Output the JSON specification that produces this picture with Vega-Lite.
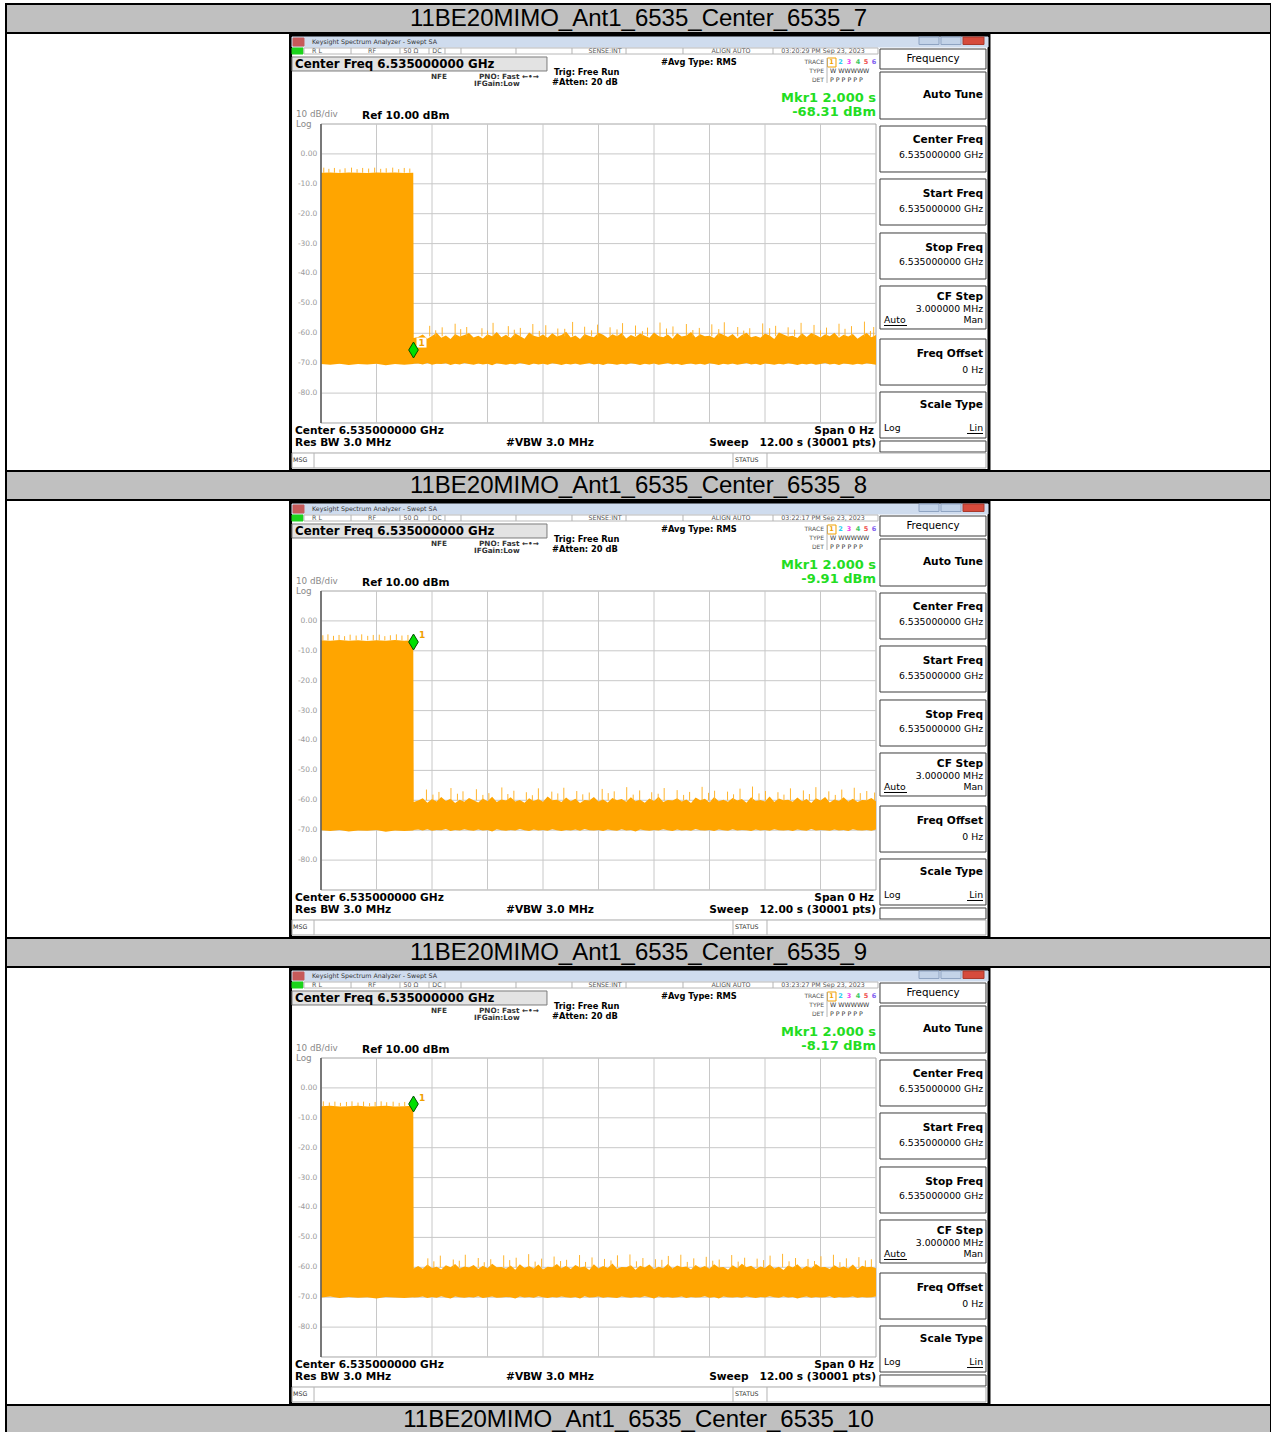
{
"$schema": "https://vega.github.io/schema/vega-lite/v6.json",
"padding": {"left": 5, "top": 3, "right": 1, "bottom": 0},
"bounds": "flush",
"spacing": 0,
"background": "white",
"config": {
  "text": {"font": "DejaVu Sans", "baseline": "middle"},
  "style": {
    "h1": {"font": "DejaVu Sans", "fontSize": 11.8, "fontWeight": "bold", "align": "left", "baseline": "middle", "color": "#000000"},
    "b11l": {"font": "DejaVu Sans", "fontSize": 10.6, "fontWeight": "bold", "align": "left", "baseline": "middle", "color": "#000000"},
    "b11r": {"font": "DejaVu Sans", "fontSize": 10.6, "fontWeight": "bold", "align": "right", "baseline": "middle", "color": "#000000"},
    "n9r": {"font": "DejaVu Sans", "fontSize": 9.3, "fontWeight": "normal", "align": "right", "baseline": "middle", "color": "#000000"},
    "n9l": {"font": "DejaVu Sans", "fontSize": 9.3, "fontWeight": "normal", "align": "left", "baseline": "middle", "color": "#000000"},
    "n10c": {"font": "DejaVu Sans", "fontSize": 10.3, "fontWeight": "normal", "align": "center", "baseline": "middle", "color": "#000000"},
    "b8l": {"font": "DejaVu Sans", "fontSize": 8.3, "fontWeight": "bold", "align": "left", "baseline": "middle", "color": "#000000"},
    "b7l": {"font": "DejaVu Sans", "fontSize": 7.3, "fontWeight": "bold", "align": "left", "baseline": "middle", "color": "#333333"},
    "gray": {"font": "DejaVu Sans", "fontSize": 8.8, "fontWeight": "normal", "align": "left", "baseline": "middle", "color": "#8a8a8a"},
    "mk": {"font": "DejaVu Sans", "fontSize": 13, "fontWeight": "bold", "align": "right", "baseline": "middle", "color": "#22dd22"},
    "tiny": {"font": "DejaVu Sans", "fontSize": 6.3, "fontWeight": "normal", "align": "center", "baseline": "middle", "color": "#555555"},
    "tinyl": {"font": "DejaVu Sans", "fontSize": 6.3, "fontWeight": "normal", "align": "left", "baseline": "middle", "color": "#333333"},
    "tinyr": {"font": "DejaVu Sans", "fontSize": 6, "fontWeight": "normal", "align": "right", "baseline": "middle", "color": "#555555"},
    "tinyc": {"font": "DejaVu Sans", "fontSize": 6.5, "fontWeight": "bold", "align": "center", "baseline": "middle", "color": "#555555"},
    "yt": {"font": "DejaVu Sans", "fontSize": 7.5, "fontWeight": "normal", "align": "right", "baseline": "middle", "color": "#9a9a9a"},
    "mkl": {"font": "DejaVu Sans", "fontSize": 9, "fontWeight": "bold", "align": "center", "baseline": "middle", "color": "#f0a000"}
  }
},
"datasets": {
  "rects": [
    {"g": "frame", "t": -0.659, "t2": 14.443, "v": 39.60, "v2": -105.89},
    {"g": "wt", "t": -0.627, "t2": 14.422, "v": 39.10, "v2": 35.75},
    {"g": "icon", "t": -0.605, "t2": -0.368, "v": 38.76, "v2": 36.09},
    {"g": "btn", "t": 12.930, "t2": 13.362, "v": 39.10, "v2": 36.59},
    {"g": "btn", "t": 13.405, "t2": 13.838, "v": 39.10, "v2": 36.59},
    {"g": "close", "t": 13.881, "t2": 14.335, "v": 39.10, "v2": 36.59},
    {"g": "lxi", "t": -0.627, "t2": -0.389, "v": 35.42, "v2": 33.41},
    {"g": "status", "t": -0.368, "t2": 12.043, "v": 35.42, "v2": 33.41},
    {"g": "cfbox", "t": -0.627, "t2": 4.886, "v": 32.41, "v2": 27.73},
    {"g": "sk", "t": 12.086, "t2": 14.378, "v": 35.08, "v2": 28.39},
    {"g": "sk", "t": 12.086, "t2": 14.378, "v": 27.39, "v2": 11.67},
    {"g": "sk", "t": 12.086, "t2": 14.378, "v": 9.33, "v2": -6.05},
    {"g": "sk", "t": 12.086, "t2": 14.378, "v": -8.39, "v2": -23.78},
    {"g": "sk", "t": 12.086, "t2": 14.378, "v": -26.45, "v2": -41.84},
    {"g": "sk", "t": 12.086, "t2": 14.378, "v": -44.18, "v2": -58.56},
    {"g": "sk", "t": 12.086, "t2": 14.378, "v": -61.91, "v2": -77.30},
    {"g": "sk", "t": 12.086, "t2": 14.378, "v": -79.63, "v2": -95.02},
    {"g": "sk", "t": 12.086, "t2": 14.378, "v": -96.02, "v2": -99.70},
    {"g": "msg", "t": -0.627, "t2": 14.378, "v": -100.03, "v2": -105.05},
    {"g": "plot", "t": 0, "t2": 12, "v": 10, "v2": -90},
    {"g": "tbox", "t": 10.951, "t2": 11.135, "v": 32.07, "v2": 29.06}
  ],
  "vr": [
    {"g": "grid", "t": 1.2, "v": 10, "v2": -90}, {"g": "grid", "t": 2.4, "v": 10, "v2": -90}, {"g": "grid", "t": 3.6, "v": 10, "v2": -90},
    {"g": "grid", "t": 4.8, "v": 10, "v2": -90}, {"g": "grid", "t": 6.0, "v": 10, "v2": -90}, {"g": "grid", "t": 7.2, "v": 10, "v2": -90},
    {"g": "grid", "t": 8.4, "v": 10, "v2": -90}, {"g": "grid", "t": 9.6, "v": 10, "v2": -90}, {"g": "grid", "t": 10.8, "v": 10, "v2": -90},
    {"g": "axis", "t": 0, "v": 10, "v2": -90},
    {"g": "div", "t": 0.649, "v": 35.42, "v2": 33.41}, {"g": "div", "t": 1.708, "v": 35.42, "v2": 33.41}, {"g": "div", "t": 2.335, "v": 35.42, "v2": 33.41},
    {"g": "div", "t": 2.681, "v": 35.42, "v2": 33.41}, {"g": "div", "t": 3.027, "v": 35.42, "v2": 33.41}, {"g": "div", "t": 4.216, "v": 35.42, "v2": 33.41},
    {"g": "div", "t": 5.427, "v": 35.42, "v2": 33.41}, {"g": "div", "t": 6.595, "v": 35.42, "v2": 33.41}, {"g": "div", "t": 7.827, "v": 35.42, "v2": 33.41},
    {"g": "div", "t": 9.773, "v": 35.42, "v2": 33.41},
    {"g": "div", "t": 10.941, "v": 32.07, "v2": 23.71},
    {"g": "div", "t": -0.151, "v": -100.03, "v2": -105.05}, {"g": "div", "t": 8.908, "v": -100.03, "v2": -105.05}, {"g": "div", "t": 9.643, "v": -100.03, "v2": -105.05}
  ],
  "hr": [
    {"g": "grid", "t": 0, "t2": 12, "v": 0}, {"g": "grid", "t": 0, "t2": 12, "v": -10}, {"g": "grid", "t": 0, "t2": 12, "v": -20},
    {"g": "grid", "t": 0, "t2": 12, "v": -30}, {"g": "grid", "t": 0, "t2": 12, "v": -40}, {"g": "grid", "t": 0, "t2": 12, "v": -50},
    {"g": "grid", "t": 0, "t2": 12, "v": -60}, {"g": "grid", "t": 0, "t2": 12, "v": -70}, {"g": "grid", "t": 0, "t2": 12, "v": -80},
    {"g": "ul", "t": 12.173, "t2": 12.670, "v": -57.39}, {"g": "ul", "t": 13.968, "t2": 14.314, "v": -93.51}
  ],
  "txt": [
    {"p": 0, "g": "h1", "t": -0.562, "v": 30.07, "s": "Center Freq 6.535000000 GHz"},
    {"p": 0, "g": "b11l", "t": 0.886, "v": 12.84, "s": "Ref 10.00 dBm"},
    {"p": 0, "g": "b11l", "t": -0.562, "v": -92.68, "s": "Center 6.535000000 GHz"},
    {"p": 0, "g": "b11l", "t": -0.562, "v": -96.69, "s": "Res BW 3.0 MHz"},
    {"p": 0, "g": "b11l", "t": 4.0, "v": -96.69, "s": "#VBW 3.0 MHz"},
    {"p": 0, "g": "b11r", "t": 11.957, "v": -92.68, "s": "Span 0 Hz"},
    {"p": 0, "g": "b11r", "t": 12.0, "v": -96.69, "s": "Sweep\u00a0\u00a0 12.00 s (30001 pts)"},
    {"p": 0, "g": "b11r", "t": 14.314, "v": 19.70, "s": "Auto Tune"},
    {"p": 0, "g": "b11r", "t": 14.314, "v": 4.65, "s": "Center Freq"},
    {"p": 0, "g": "b11r", "t": 14.314, "v": -13.41, "s": "Start Freq"},
    {"p": 0, "g": "b11r", "t": 14.314, "v": -31.47, "s": "Stop Freq"},
    {"p": 0, "g": "b11r", "t": 14.314, "v": -47.86, "s": "CF Step"},
    {"p": 0, "g": "b11r", "t": 14.314, "v": -66.92, "s": "Freq Offset"},
    {"p": 0, "g": "b11r", "t": 14.314, "v": -83.98, "s": "Scale Type"},
    {"p": 0, "g": "n9r", "t": 14.314, "v": -0.37, "s": "6.535000000 GHz"},
    {"p": 0, "g": "n9r", "t": 14.314, "v": -18.43, "s": "6.535000000 GHz"},
    {"p": 0, "g": "n9r", "t": 14.314, "v": -36.15, "s": "6.535000000 GHz"},
    {"p": 0, "g": "n9r", "t": 14.314, "v": -51.87, "s": "3.000000 MHz"},
    {"p": 0, "g": "n9r", "t": 14.314, "v": -55.55, "s": "Man"},
    {"p": 0, "g": "n9r", "t": 14.314, "v": -72.27, "s": "0 Hz"},
    {"p": 0, "g": "n9r", "t": 14.314, "v": -91.67, "s": "Lin"},
    {"p": 0, "g": "n9l", "t": 12.173, "v": -55.55, "s": "Auto"},
    {"p": 0, "g": "n9l", "t": 12.173, "v": -91.67, "s": "Log"},
    {"p": 0, "g": "n10c", "t": 13.232, "v": 31.64, "s": "Frequency"},
    {"p": 0, "g": "b8l", "t": 5.038, "v": 27.16, "s": "Trig: Free Run"},
    {"p": 0, "g": "b8l", "t": 4.995, "v": 23.81, "s": "#Atten: 20 dB"},
    {"p": 0, "g": "b8l", "t": 7.351, "v": 30.30, "s": "#Avg Type: RMS"},
    {"p": 0, "g": "b7l", "t": 2.378, "v": 25.82, "s": "NFE"},
    {"p": 0, "g": "b7l", "t": 3.416, "v": 25.82, "s": "PNO: Fast \u2190\u2022\u2192"},
    {"p": 0, "g": "b7l", "t": 3.308, "v": 23.28, "s": "IFGain:Low"},
    {"p": 0, "g": "gray", "t": -0.541, "v": 13.4, "s": "10 dB/div"},
    {"p": 0, "g": "gray", "t": -0.541, "v": 10.1, "s": "Log"},
    {"p": 0, "g": "mk", "t": 12.0, "v": 18.60, "s": "Mkr1 2.000 s"},
    {"p": 1, "g": "mk", "t": 12.0, "v": 13.91, "s": "-68.31 dBm"},
    {"p": 2, "g": "mk", "t": 12.0, "v": 13.91, "s": "-9.91 dBm"},
    {"p": 3, "g": "mk", "t": 12.0, "v": 13.91, "s": "-8.17 dBm"},
    {"p": 0, "g": "tiny", "t": -0.086, "v": 34.48, "s": "R L"},
    {"p": 0, "g": "tiny", "t": 1.103, "v": 34.48, "s": "RF"},
    {"p": 0, "g": "tiny", "t": 1.946, "v": 34.48, "s": "50 \u03a9"},
    {"p": 0, "g": "tiny", "t": 2.508, "v": 34.48, "s": "DC"},
    {"p": 0, "g": "tiny", "t": 6.141, "v": 34.48, "s": "SENSE:INT"},
    {"p": 0, "g": "tiny", "t": 8.865, "v": 34.48, "s": "ALIGN AUTO"},
    {"p": 1, "g": "tiny", "t": 10.854, "v": 34.48, "s": "03:20:29 PM Sep 23, 2023"},
    {"p": 2, "g": "tiny", "t": 10.854, "v": 34.48, "s": "03:22:17 PM Sep 23, 2023"},
    {"p": 3, "g": "tiny", "t": 10.854, "v": 34.48, "s": "03:23:27 PM Sep 23, 2023"},
    {"p": 0, "g": "tinyl", "t": -0.195, "v": 37.59, "s": "Keysight Spectrum Analyzer - Swept SA"},
    {"p": 0, "g": "tinyl", "t": -0.605, "v": -102.54, "s": "MSG"},
    {"p": 0, "g": "tinyl", "t": 8.951, "v": -102.54, "s": "STATUS"},
    {"p": 0, "g": "tinyl", "t": 11.005, "v": 27.63, "s": "W WWWWW"},
    {"p": 0, "g": "tinyl", "t": 11.005, "v": 24.72, "s": "P P P P P P"},
    {"p": 0, "g": "tinyr", "t": 10.876, "v": 30.64, "s": "TRACE"},
    {"p": 0, "g": "tinyr", "t": 10.876, "v": 27.63, "s": "TYPE"},
    {"p": 0, "g": "tinyr", "t": 10.876, "v": 24.72, "s": "DET"},
    {"p": 0, "g": "yt", "t": -0.08, "v": 0, "s": "0.00"},
    {"p": 0, "g": "yt", "t": -0.08, "v": -10, "s": "-10.0"},
    {"p": 0, "g": "yt", "t": -0.08, "v": -20, "s": "-20.0"},
    {"p": 0, "g": "yt", "t": -0.08, "v": -30, "s": "-30.0"},
    {"p": 0, "g": "yt", "t": -0.08, "v": -40, "s": "-40.0"},
    {"p": 0, "g": "yt", "t": -0.08, "v": -50, "s": "-50.0"},
    {"p": 0, "g": "yt", "t": -0.08, "v": -60, "s": "-60.0"},
    {"p": 0, "g": "yt", "t": -0.08, "v": -70, "s": "-70.0"},
    {"p": 0, "g": "yt", "t": -0.08, "v": -80, "s": "-80.0"}
  ],
  "trn": [
    {"t": 11.038, "v": 30.64, "n": "1"}, {"t": 11.232, "v": 30.64, "n": "2"}, {"t": 11.416, "v": 30.64, "n": "3"},
    {"t": 11.611, "v": 30.64, "n": "4"}, {"t": 11.784, "v": 30.64, "n": "5"}, {"t": 11.957, "v": 30.64, "n": "6"}
  ],
  "mkr": [
    {"p": 1, "t": 2.0, "v": -65.59},
    {"p": 2, "t": 2.0, "v": -7.06},
    {"p": 3, "t": 2.0, "v": -5.38}
  ],
  "mkl": [
    {"p": 1, "t": 2.173, "v": -63.1, "s": "1"},
    {"p": 2, "t": 2.184, "v": -4.72, "s": "1"},
    {"p": 3, "t": 2.184, "v": -3.38, "s": "1"}
  ],
  "sp": [
    {"p":1,"t":0.06,"v":-4.6,"v2":-6.3},{"p":1,"t":0.17,"v":-5.0,"v2":-6.3},{"p":1,"t":0.29,"v":-4.7,"v2":-6.3},{"p":1,"t":0.41,"v":-5.2,"v2":-6.3},
    {"p":1,"t":0.52,"v":-4.8,"v2":-6.3},{"p":1,"t":0.66,"v":-4.6,"v2":-6.3},{"p":1,"t":0.78,"v":-5.1,"v2":-6.3},{"p":1,"t":0.9,"v":-4.7,"v2":-6.3},
    {"p":1,"t":1.03,"v":-4.9,"v2":-6.3},{"p":1,"t":1.16,"v":-4.6,"v2":-6.3},{"p":1,"t":1.29,"v":-5.0,"v2":-6.3},{"p":1,"t":1.41,"v":-4.8,"v2":-6.3},
    {"p":1,"t":1.55,"v":-4.6,"v2":-6.3},{"p":1,"t":1.68,"v":-5.1,"v2":-6.3},{"p":1,"t":1.8,"v":-4.7,"v2":-6.3},{"p":1,"t":1.92,"v":-4.9,"v2":-6.3},
    {"p":1,"t":2.35,"v":-57.5,"v2":-61},{"p":1,"t":2.48,"v":-59.0,"v2":-61},{"p":1,"t":2.62,"v":-58.0,"v2":-61},{"p":1,"t":2.9,"v":-56.8,"v2":-61},
    {"p":1,"t":3.02,"v":-58.6,"v2":-61},{"p":1,"t":3.15,"v":-57.9,"v2":-61},{"p":1,"t":3.48,"v":-58.3,"v2":-61},{"p":1,"t":3.6,"v":-59.1,"v2":-61},
    {"p":1,"t":3.72,"v":-56.5,"v2":-61},{"p":1,"t":4.05,"v":-57.6,"v2":-61},{"p":1,"t":4.18,"v":-58.8,"v2":-61},{"p":1,"t":4.31,"v":-58.2,"v2":-61},
    {"p":1,"t":4.58,"v":-56.9,"v2":-61},{"p":1,"t":4.72,"v":-59.2,"v2":-61},{"p":1,"t":4.86,"v":-57.3,"v2":-61},{"p":1,"t":5.12,"v":-58.4,"v2":-61},
    {"p":1,"t":5.27,"v":-58.5,"v2":-61},{"p":1,"t":5.44,"v":-56.2,"v2":-61},{"p":1,"t":5.7,"v":-57.8,"v2":-61},{"p":1,"t":5.85,"v":-59.0,"v2":-61},
    {"p":1,"t":5.98,"v":-57.1,"v2":-61},{"p":1,"t":6.25,"v":-58.0,"v2":-61},{"p":1,"t":6.4,"v":-58.7,"v2":-61},{"p":1,"t":6.52,"v":-56.6,"v2":-61},
    {"p":1,"t":6.8,"v":-57.4,"v2":-61},{"p":1,"t":6.95,"v":-59.3,"v2":-61},{"p":1,"t":7.06,"v":-58.1,"v2":-61},{"p":1,"t":7.33,"v":-56.4,"v2":-61},
    {"p":1,"t":7.47,"v":-58.4,"v2":-61},{"p":1,"t":7.61,"v":-57.7,"v2":-61},{"p":1,"t":7.9,"v":-56.9,"v2":-61},{"p":1,"t":8.04,"v":-58.9,"v2":-61},
    {"p":1,"t":8.18,"v":-58.2,"v2":-61},{"p":1,"t":8.45,"v":-57.0,"v2":-61},{"p":1,"t":8.6,"v":-58.6,"v2":-61},{"p":1,"t":8.72,"v":-56.3,"v2":-61},
    {"p":1,"t":9.01,"v":-57.9,"v2":-61},{"p":1,"t":9.14,"v":-59.1,"v2":-61},{"p":1,"t":9.27,"v":-58.3,"v2":-61},{"p":1,"t":9.55,"v":-56.7,"v2":-61},
    {"p":1,"t":9.7,"v":-58.3,"v2":-61},{"p":1,"t":9.83,"v":-57.5,"v2":-61},{"p":1,"t":10.1,"v":-58.0,"v2":-61},{"p":1,"t":10.24,"v":-58.8,"v2":-61},
    {"p":1,"t":10.38,"v":-56.5,"v2":-61},{"p":1,"t":10.66,"v":-57.2,"v2":-61},{"p":1,"t":10.8,"v":-59.0,"v2":-61},{"p":1,"t":10.93,"v":-58.1,"v2":-61},
    {"p":1,"t":11.2,"v":-56.8,"v2":-61},{"p":1,"t":11.33,"v":-58.5,"v2":-61},{"p":1,"t":11.47,"v":-57.6,"v2":-61},{"p":1,"t":11.75,"v":-56.1,"v2":-61},
    {"p":1,"t":11.88,"v":-59.2,"v2":-61},{"p":1,"t":11.95,"v":-57.9,"v2":-61},

    {"p":2,"t":0.04,"v":-4.8,"v2":-6.5},{"p":2,"t":0.15,"v":-4.5,"v2":-6.5},{"p":2,"t":0.27,"v":-5.0,"v2":-6.5},{"p":2,"t":0.39,"v":-4.7,"v2":-6.5},
    {"p":2,"t":0.51,"v":-5.1,"v2":-6.5},{"p":2,"t":0.63,"v":-4.6,"v2":-6.5},{"p":2,"t":0.76,"v":-4.9,"v2":-6.5},{"p":2,"t":0.88,"v":-4.5,"v2":-6.5},
    {"p":2,"t":1.01,"v":-5.0,"v2":-6.5},{"p":2,"t":1.13,"v":-4.7,"v2":-6.5},{"p":2,"t":1.26,"v":-4.6,"v2":-6.5},{"p":2,"t":1.38,"v":-5.1,"v2":-6.5},
    {"p":2,"t":1.5,"v":-4.8,"v2":-6.5},{"p":2,"t":1.63,"v":-4.5,"v2":-6.5},{"p":2,"t":1.75,"v":-4.9,"v2":-6.5},{"p":2,"t":1.88,"v":-4.7,"v2":-6.5},
    {"p":2,"t":2.28,"v":-56.4,"v2":-60},{"p":2,"t":2.42,"v":-58.1,"v2":-60},{"p":2,"t":2.55,"v":-57.2,"v2":-60},{"p":2,"t":2.81,"v":-55.9,"v2":-60},
    {"p":2,"t":2.95,"v":-57.8,"v2":-60},{"p":2,"t":3.07,"v":-57.0,"v2":-60},{"p":2,"t":3.36,"v":-56.3,"v2":-60},{"p":2,"t":3.5,"v":-58.2,"v2":-60},
    {"p":2,"t":3.63,"v":-57.6,"v2":-60},{"p":2,"t":3.91,"v":-55.7,"v2":-60},{"p":2,"t":4.04,"v":-57.9,"v2":-60},{"p":2,"t":4.17,"v":-56.8,"v2":-60},
    {"p":2,"t":4.44,"v":-57.3,"v2":-60},{"p":2,"t":4.57,"v":-58.3,"v2":-60},{"p":2,"t":4.7,"v":-56.0,"v2":-60},{"p":2,"t":4.99,"v":-57.1,"v2":-60},
    {"p":2,"t":5.12,"v":-57.7,"v2":-60},{"p":2,"t":5.25,"v":-55.8,"v2":-60},{"p":2,"t":5.53,"v":-56.9,"v2":-60},{"p":2,"t":5.66,"v":-58.0,"v2":-60},
    {"p":2,"t":5.8,"v":-57.4,"v2":-60},{"p":2,"t":6.08,"v":-56.2,"v2":-60},{"p":2,"t":6.21,"v":-57.6,"v2":-60},{"p":2,"t":6.34,"v":-57.0,"v2":-60},
    {"p":2,"t":6.61,"v":-55.6,"v2":-60},{"p":2,"t":6.75,"v":-58.1,"v2":-60},{"p":2,"t":6.89,"v":-56.7,"v2":-60},{"p":2,"t":7.15,"v":-57.3,"v2":-60},
    {"p":2,"t":7.29,"v":-57.8,"v2":-60},{"p":2,"t":7.42,"v":-55.9,"v2":-60},{"p":2,"t":7.7,"v":-56.6,"v2":-60},{"p":2,"t":7.84,"v":-58.2,"v2":-60},
    {"p":2,"t":7.97,"v":-57.2,"v2":-60},{"p":2,"t":8.24,"v":-55.5,"v2":-60},{"p":2,"t":8.38,"v":-57.5,"v2":-60},{"p":2,"t":8.51,"v":-56.8,"v2":-60},
    {"p":2,"t":8.79,"v":-57.1,"v2":-60},{"p":2,"t":8.92,"v":-58.0,"v2":-60},{"p":2,"t":9.06,"v":-56.1,"v2":-60},{"p":2,"t":9.33,"v":-55.4,"v2":-60},
    {"p":2,"t":9.47,"v":-57.7,"v2":-60},{"p":2,"t":9.61,"v":-56.9,"v2":-60},{"p":2,"t":9.88,"v":-57.3,"v2":-60},{"p":2,"t":10.01,"v":-58.1,"v2":-60},
    {"p":2,"t":10.15,"v":-56.0,"v2":-60},{"p":2,"t":10.43,"v":-56.7,"v2":-60},{"p":2,"t":10.56,"v":-57.9,"v2":-60},{"p":2,"t":10.7,"v":-55.6,"v2":-60},
    {"p":2,"t":10.98,"v":-57.0,"v2":-60},{"p":2,"t":11.12,"v":-58.2,"v2":-60},{"p":2,"t":11.26,"v":-56.4,"v2":-60},{"p":2,"t":11.53,"v":-55.8,"v2":-60},
    {"p":2,"t":11.66,"v":-57.6,"v2":-60},{"p":2,"t":11.8,"v":-56.9,"v2":-60},{"p":2,"t":11.97,"v":-57.4,"v2":-60},

    {"p":3,"t":0.05,"v":-4.5,"v2":-6.1},{"p":3,"t":0.18,"v":-4.9,"v2":-6.1},{"p":3,"t":0.3,"v":-4.6,"v2":-6.1},{"p":3,"t":0.42,"v":-5.0,"v2":-6.1},
    {"p":3,"t":0.55,"v":-4.7,"v2":-6.1},{"p":3,"t":0.67,"v":-4.5,"v2":-6.1},{"p":3,"t":0.8,"v":-4.9,"v2":-6.1},{"p":3,"t":0.92,"v":-4.6,"v2":-6.1},
    {"p":3,"t":1.05,"v":-5.1,"v2":-6.1},{"p":3,"t":1.17,"v":-4.7,"v2":-6.1},{"p":3,"t":1.3,"v":-4.5,"v2":-6.1},{"p":3,"t":1.42,"v":-4.8,"v2":-6.1},
    {"p":3,"t":1.56,"v":-4.6,"v2":-6.1},{"p":3,"t":1.69,"v":-5.0,"v2":-6.1},{"p":3,"t":1.81,"v":-4.7,"v2":-6.1},{"p":3,"t":1.94,"v":-4.6,"v2":-6.1},
    {"p":3,"t":2.31,"v":-57.0,"v2":-60},{"p":3,"t":2.44,"v":-58.0,"v2":-60},{"p":3,"t":2.58,"v":-56.1,"v2":-60},{"p":3,"t":2.86,"v":-57.4,"v2":-60},
    {"p":3,"t":2.99,"v":-57.8,"v2":-60},{"p":3,"t":3.12,"v":-55.8,"v2":-60},{"p":3,"t":3.4,"v":-56.9,"v2":-60},{"p":3,"t":3.53,"v":-58.3,"v2":-60},
    {"p":3,"t":3.67,"v":-57.3,"v2":-60},{"p":3,"t":3.95,"v":-56.0,"v2":-60},{"p":3,"t":4.08,"v":-57.6,"v2":-60},{"p":3,"t":4.22,"v":-56.8,"v2":-60},
    {"p":3,"t":4.49,"v":-55.6,"v2":-60},{"p":3,"t":4.63,"v":-58.1,"v2":-60},{"p":3,"t":4.77,"v":-57.1,"v2":-60},{"p":3,"t":5.04,"v":-56.4,"v2":-60},
    {"p":3,"t":5.18,"v":-57.9,"v2":-60},{"p":3,"t":5.31,"v":-57.5,"v2":-60},{"p":3,"t":5.59,"v":-55.9,"v2":-60},{"p":3,"t":5.72,"v":-58.2,"v2":-60},
    {"p":3,"t":5.86,"v":-56.7,"v2":-60},{"p":3,"t":6.13,"v":-57.2,"v2":-60},{"p":3,"t":6.27,"v":-57.7,"v2":-60},{"p":3,"t":6.41,"v":-56.0,"v2":-60},
    {"p":3,"t":6.68,"v":-55.7,"v2":-60},{"p":3,"t":6.82,"v":-58.0,"v2":-60},{"p":3,"t":6.96,"v":-56.9,"v2":-60},{"p":3,"t":7.23,"v":-57.3,"v2":-60},
    {"p":3,"t":7.37,"v":-57.5,"v2":-60},{"p":3,"t":7.51,"v":-56.2,"v2":-60},{"p":3,"t":7.78,"v":-55.8,"v2":-60},{"p":3,"t":7.92,"v":-58.2,"v2":-60},
    {"p":3,"t":8.06,"v":-57.0,"v2":-60},{"p":3,"t":8.33,"v":-56.5,"v2":-60},{"p":3,"t":8.47,"v":-57.8,"v2":-60},{"p":3,"t":8.61,"v":-57.4,"v2":-60},
    {"p":3,"t":8.88,"v":-55.9,"v2":-60},{"p":3,"t":9.02,"v":-58.1,"v2":-60},{"p":3,"t":9.16,"v":-56.8,"v2":-60},{"p":3,"t":9.43,"v":-57.1,"v2":-60},
    {"p":3,"t":9.57,"v":-57.6,"v2":-60},{"p":3,"t":9.71,"v":-56.1,"v2":-60},{"p":3,"t":9.98,"v":-55.5,"v2":-60},{"p":3,"t":10.12,"v":-58.0,"v2":-60},
    {"p":3,"t":10.26,"v":-56.9,"v2":-60},{"p":3,"t":10.53,"v":-57.2,"v2":-60},{"p":3,"t":10.67,"v":-57.9,"v2":-60},{"p":3,"t":10.81,"v":-56.3,"v2":-60},
    {"p":3,"t":11.08,"v":-55.8,"v2":-60},{"p":3,"t":11.22,"v":-58.3,"v2":-60},{"p":3,"t":11.36,"v":-57.0,"v2":-60},{"p":3,"t":11.63,"v":-56.6,"v2":-60},
    {"p":3,"t":11.77,"v":-57.7,"v2":-60},{"p":3,"t":11.9,"v":-57.3,"v2":-60}
  ],
  "tr": [
    {"p":1,"t":0,"v":-6.3,"v2":-70.3},{"p":1,"t":0.2,"v":-6.2,"v2":-70.5},{"p":1,"t":0.4,"v":-6.4,"v2":-70.2},{"p":1,"t":0.6,"v":-6.2,"v2":-70.6},
    {"p":1,"t":0.8,"v":-6.3,"v2":-70.3},{"p":1,"t":1.0,"v":-6.4,"v2":-70.4},{"p":1,"t":1.2,"v":-6.2,"v2":-70.2},{"p":1,"t":1.4,"v":-6.3,"v2":-70.7},
    {"p":1,"t":1.6,"v":-6.2,"v2":-70.3},{"p":1,"t":1.8,"v":-6.4,"v2":-70.5},{"p":1,"t":1.995,"v":-6.3,"v2":-70.3},{"p":1,"t":2.005,"v":-61.6,"v2":-70.2},
    {"p":1,"t":2.1,"v":-61.2,"v2":-70.1},{"p":1,"t":2.2,"v":-60.4,"v2":-70.4},{"p":1,"t":2.3,"v":-61.8,"v2":-69.9},{"p":1,"t":2.4,"v":-60.9,"v2":-70.5},{"p":1,"t":2.5,"v":-59.8,"v2":-70.2},
    {"p":1,"t":2.6,"v":-61.5,"v2":-70.3},{"p":1,"t":2.7,"v":-60.7,"v2":-70.0},{"p":1,"t":2.8,"v":-61.9,"v2":-70.6},{"p":1,"t":2.9,"v":-60.2,"v2":-70.2},{"p":1,"t":3.0,"v":-61.1,"v2":-70.4},
    {"p":1,"t":3.1,"v":-60.6,"v2":-69.9},{"p":1,"t":3.2,"v":-59.9,"v2":-70.3},{"p":1,"t":3.3,"v":-61.4,"v2":-70.5},{"p":1,"t":3.4,"v":-60.8,"v2":-70.1},{"p":1,"t":3.5,"v":-61.7,"v2":-70.4},
    {"p":1,"t":3.6,"v":-60.3,"v2":-70.2},{"p":1,"t":3.7,"v":-61.0,"v2":-70.7},{"p":1,"t":3.8,"v":-59.6,"v2":-70.0},{"p":1,"t":3.9,"v":-61.3,"v2":-70.3},{"p":1,"t":4.0,"v":-60.5,"v2":-70.5},
    {"p":1,"t":4.1,"v":-61.6,"v2":-70.2},{"p":1,"t":4.2,"v":-60.1,"v2":-70.4},{"p":1,"t":4.3,"v":-60.9,"v2":-69.9},{"p":1,"t":4.4,"v":-61.8,"v2":-70.3},{"p":1,"t":4.5,"v":-59.7,"v2":-70.6},
    {"p":1,"t":4.6,"v":-60.8,"v2":-70.1},{"p":1,"t":4.7,"v":-61.2,"v2":-70.4},{"p":1,"t":4.8,"v":-60.4,"v2":-70.2},{"p":1,"t":4.9,"v":-61.5,"v2":-70.5},{"p":1,"t":5.0,"v":-60.0,"v2":-70.0},
    {"p":1,"t":5.1,"v":-61.1,"v2":-70.3},{"p":1,"t":5.2,"v":-60.6,"v2":-70.6},{"p":1,"t":5.3,"v":-59.5,"v2":-70.2},{"p":1,"t":5.4,"v":-61.4,"v2":-70.4},{"p":1,"t":5.5,"v":-60.7,"v2":-70.1},
    {"p":1,"t":5.6,"v":-61.9,"v2":-70.5},{"p":1,"t":5.7,"v":-60.2,"v2":-70.3},{"p":1,"t":5.8,"v":-60.9,"v2":-69.9},{"p":1,"t":5.9,"v":-61.3,"v2":-70.4},{"p":1,"t":6.0,"v":-59.8,"v2":-70.2},
    {"p":1,"t":6.1,"v":-60.5,"v2":-70.6},{"p":1,"t":6.2,"v":-61.6,"v2":-70.1},{"p":1,"t":6.3,"v":-60.3,"v2":-70.3},{"p":1,"t":6.4,"v":-61.0,"v2":-70.5},{"p":1,"t":6.5,"v":-59.9,"v2":-70.2},
    {"p":1,"t":6.6,"v":-61.7,"v2":-70.4},{"p":1,"t":6.7,"v":-60.6,"v2":-70.0},{"p":1,"t":6.8,"v":-61.2,"v2":-70.3},{"p":1,"t":6.9,"v":-60.1,"v2":-70.6},{"p":1,"t":7.0,"v":-60.8,"v2":-70.2},
    {"p":1,"t":7.1,"v":-61.5,"v2":-70.4},{"p":1,"t":7.2,"v":-59.7,"v2":-70.1},{"p":1,"t":7.3,"v":-60.9,"v2":-70.5},{"p":1,"t":7.4,"v":-61.3,"v2":-70.3},{"p":1,"t":7.5,"v":-60.4,"v2":-69.9},
    {"p":1,"t":7.6,"v":-61.8,"v2":-70.4},{"p":1,"t":7.7,"v":-60.0,"v2":-70.2},{"p":1,"t":7.8,"v":-61.1,"v2":-70.6},{"p":1,"t":7.9,"v":-60.7,"v2":-70.3},{"p":1,"t":8.0,"v":-59.6,"v2":-70.1},
    {"p":1,"t":8.1,"v":-61.4,"v2":-70.4},{"p":1,"t":8.2,"v":-60.3,"v2":-70.2},{"p":1,"t":8.3,"v":-61.0,"v2":-70.5},{"p":1,"t":8.4,"v":-60.8,"v2":-70.0},{"p":1,"t":8.5,"v":-61.6,"v2":-70.3},
    {"p":1,"t":8.6,"v":-59.9,"v2":-70.6},{"p":1,"t":8.7,"v":-60.5,"v2":-70.2},{"p":1,"t":8.8,"v":-61.2,"v2":-70.4},{"p":1,"t":8.9,"v":-60.2,"v2":-70.1},{"p":1,"t":9.0,"v":-61.7,"v2":-70.5},
    {"p":1,"t":9.1,"v":-60.6,"v2":-70.3},{"p":1,"t":9.2,"v":-59.8,"v2":-69.9},{"p":1,"t":9.3,"v":-61.3,"v2":-70.4},{"p":1,"t":9.4,"v":-60.9,"v2":-70.2},{"p":1,"t":9.5,"v":-61.5,"v2":-70.6},
    {"p":1,"t":9.6,"v":-60.1,"v2":-70.1},{"p":1,"t":9.7,"v":-60.7,"v2":-70.3},{"p":1,"t":9.8,"v":-61.9,"v2":-70.5},{"p":1,"t":9.9,"v":-59.7,"v2":-70.2},{"p":1,"t":10.0,"v":-60.4,"v2":-70.4},
    {"p":1,"t":10.1,"v":-61.1,"v2":-70.0},{"p":1,"t":10.2,"v":-60.8,"v2":-70.3},{"p":1,"t":10.3,"v":-61.6,"v2":-70.6},{"p":1,"t":10.4,"v":-60.0,"v2":-70.2},{"p":1,"t":10.5,"v":-61.2,"v2":-70.4},
    {"p":1,"t":10.6,"v":-59.9,"v2":-70.1},{"p":1,"t":10.7,"v":-60.6,"v2":-70.5},{"p":1,"t":10.8,"v":-61.4,"v2":-70.3},{"p":1,"t":10.9,"v":-60.3,"v2":-69.9},{"p":1,"t":11.0,"v":-61.0,"v2":-70.4},
    {"p":1,"t":11.1,"v":-59.8,"v2":-70.2},{"p":1,"t":11.2,"v":-61.5,"v2":-70.6},{"p":1,"t":11.3,"v":-60.5,"v2":-70.1},{"p":1,"t":11.4,"v":-61.1,"v2":-70.3},{"p":1,"t":11.5,"v":-60.2,"v2":-70.5},
    {"p":1,"t":11.6,"v":-61.8,"v2":-70.2},{"p":1,"t":11.7,"v":-60.7,"v2":-70.4},{"p":1,"t":11.8,"v":-59.9,"v2":-70.0},{"p":1,"t":11.9,"v":-61.3,"v2":-70.3},{"p":1,"t":12.0,"v":-60.6,"v2":-70.5},

    {"p":2,"t":0,"v":-6.5,"v2":-70.0},{"p":2,"t":0.2,"v":-6.6,"v2":-70.3},{"p":2,"t":0.4,"v":-6.4,"v2":-69.9},{"p":2,"t":0.6,"v":-6.6,"v2":-70.4},
    {"p":2,"t":0.8,"v":-6.5,"v2":-70.1},{"p":2,"t":1.0,"v":-6.7,"v2":-70.2},{"p":2,"t":1.2,"v":-6.5,"v2":-69.9},{"p":2,"t":1.4,"v":-6.6,"v2":-70.5},
    {"p":2,"t":1.6,"v":-6.4,"v2":-70.1},{"p":2,"t":1.8,"v":-6.6,"v2":-70.3},{"p":2,"t":1.995,"v":-6.5,"v2":-70.1},{"p":2,"t":2.005,"v":-60.6,"v2":-69.9},
    {"p":2,"t":2.1,"v":-60.1,"v2":-69.8},{"p":2,"t":2.2,"v":-59.3,"v2":-70.1},{"p":2,"t":2.3,"v":-60.8,"v2":-69.7},{"p":2,"t":2.4,"v":-59.6,"v2":-70.2},{"p":2,"t":2.5,"v":-60.4,"v2":-69.9},
    {"p":2,"t":2.6,"v":-58.9,"v2":-70.0},{"p":2,"t":2.7,"v":-60.2,"v2":-69.6},{"p":2,"t":2.8,"v":-59.5,"v2":-70.3},{"p":2,"t":2.9,"v":-60.9,"v2":-69.9},{"p":2,"t":3.0,"v":-59.8,"v2":-70.1},
    {"p":2,"t":3.1,"v":-60.5,"v2":-69.7},{"p":2,"t":3.2,"v":-59.2,"v2":-70.0},{"p":2,"t":3.3,"v":-60.0,"v2":-70.2},{"p":2,"t":3.4,"v":-60.7,"v2":-69.8},{"p":2,"t":3.5,"v":-59.4,"v2":-70.1},
    {"p":2,"t":3.6,"v":-60.3,"v2":-69.9},{"p":2,"t":3.7,"v":-58.8,"v2":-70.4},{"p":2,"t":3.8,"v":-60.6,"v2":-69.7},{"p":2,"t":3.9,"v":-59.7,"v2":-70.0},{"p":2,"t":4.0,"v":-60.1,"v2":-70.2},
    {"p":2,"t":4.1,"v":-59.0,"v2":-69.9},{"p":2,"t":4.2,"v":-60.4,"v2":-70.1},{"p":2,"t":4.3,"v":-59.9,"v2":-69.6},{"p":2,"t":4.4,"v":-60.8,"v2":-70.0},{"p":2,"t":4.5,"v":-59.3,"v2":-70.3},
    {"p":2,"t":4.6,"v":-60.2,"v2":-69.8},{"p":2,"t":4.7,"v":-59.6,"v2":-70.1},{"p":2,"t":4.8,"v":-60.5,"v2":-69.9},{"p":2,"t":4.9,"v":-58.7,"v2":-70.2},{"p":2,"t":5.0,"v":-60.0,"v2":-69.7},
    {"p":2,"t":5.1,"v":-59.8,"v2":-70.0},{"p":2,"t":5.2,"v":-60.6,"v2":-70.3},{"p":2,"t":5.3,"v":-59.1,"v2":-69.9},{"p":2,"t":5.4,"v":-60.3,"v2":-70.1},{"p":2,"t":5.5,"v":-59.5,"v2":-69.8},
    {"p":2,"t":5.6,"v":-60.9,"v2":-70.2},{"p":2,"t":5.7,"v":-59.9,"v2":-69.6},{"p":2,"t":5.8,"v":-60.1,"v2":-70.0},{"p":2,"t":5.9,"v":-58.9,"v2":-70.1},{"p":2,"t":6.0,"v":-60.4,"v2":-69.9},
    {"p":2,"t":6.1,"v":-59.7,"v2":-70.3},{"p":2,"t":6.2,"v":-60.7,"v2":-69.8},{"p":2,"t":6.3,"v":-59.2,"v2":-70.0},{"p":2,"t":6.4,"v":-60.0,"v2":-70.2},{"p":2,"t":6.5,"v":-59.6,"v2":-69.7},
    {"p":2,"t":6.6,"v":-60.5,"v2":-70.1},{"p":2,"t":6.7,"v":-59.0,"v2":-69.9},{"p":2,"t":6.8,"v":-60.3,"v2":-70.4},{"p":2,"t":6.9,"v":-59.8,"v2":-69.8},{"p":2,"t":7.0,"v":-60.8,"v2":-70.0},
    {"p":2,"t":7.1,"v":-59.4,"v2":-70.2},{"p":2,"t":7.2,"v":-60.2,"v2":-69.9},{"p":2,"t":7.3,"v":-58.8,"v2":-70.1},{"p":2,"t":7.4,"v":-60.6,"v2":-69.7},{"p":2,"t":7.5,"v":-59.9,"v2":-70.0},
    {"p":2,"t":7.6,"v":-60.1,"v2":-70.3},{"p":2,"t":7.7,"v":-59.3,"v2":-69.8},{"p":2,"t":7.8,"v":-60.4,"v2":-70.1},{"p":2,"t":7.9,"v":-59.7,"v2":-69.9},{"p":2,"t":8.0,"v":-60.9,"v2":-70.2},
    {"p":2,"t":8.1,"v":-59.1,"v2":-69.6},{"p":2,"t":8.2,"v":-60.0,"v2":-70.0},{"p":2,"t":8.3,"v":-59.5,"v2":-70.1},{"p":2,"t":8.4,"v":-60.7,"v2":-69.9},{"p":2,"t":8.5,"v":-58.9,"v2":-70.3},
    {"p":2,"t":8.6,"v":-60.3,"v2":-69.8},{"p":2,"t":8.7,"v":-59.8,"v2":-70.0},{"p":2,"t":8.8,"v":-60.5,"v2":-70.2},{"p":2,"t":8.9,"v":-59.2,"v2":-69.7},{"p":2,"t":9.0,"v":-60.1,"v2":-70.1},
    {"p":2,"t":9.1,"v":-59.6,"v2":-69.9},{"p":2,"t":9.2,"v":-60.8,"v2":-70.0},{"p":2,"t":9.3,"v":-59.0,"v2":-70.3},{"p":2,"t":9.4,"v":-60.2,"v2":-69.8},{"p":2,"t":9.5,"v":-59.9,"v2":-70.1},
    {"p":2,"t":9.6,"v":-60.4,"v2":-69.9},{"p":2,"t":9.7,"v":-58.7,"v2":-70.2},{"p":2,"t":9.8,"v":-60.6,"v2":-69.7},{"p":2,"t":9.9,"v":-59.4,"v2":-70.0},{"p":2,"t":10.0,"v":-60.0,"v2":-70.1},
    {"p":2,"t":10.1,"v":-59.8,"v2":-69.9},{"p":2,"t":10.2,"v":-60.5,"v2":-70.3},{"p":2,"t":10.3,"v":-59.1,"v2":-69.8},{"p":2,"t":10.4,"v":-60.3,"v2":-70.0},{"p":2,"t":10.5,"v":-59.6,"v2":-70.2},
    {"p":2,"t":10.6,"v":-60.9,"v2":-69.6},{"p":2,"t":10.7,"v":-59.3,"v2":-70.1},{"p":2,"t":10.8,"v":-60.1,"v2":-69.9},{"p":2,"t":10.9,"v":-58.9,"v2":-70.0},{"p":2,"t":11.0,"v":-60.7,"v2":-70.2},
    {"p":2,"t":11.1,"v":-59.7,"v2":-69.8},{"p":2,"t":11.2,"v":-60.2,"v2":-70.1},{"p":2,"t":11.3,"v":-59.0,"v2":-69.9},{"p":2,"t":11.4,"v":-60.4,"v2":-70.3},{"p":2,"t":11.5,"v":-59.5,"v2":-69.7},
    {"p":2,"t":11.6,"v":-60.6,"v2":-70.0},{"p":2,"t":11.7,"v":-59.9,"v2":-70.1},{"p":2,"t":11.8,"v":-60.0,"v2":-69.9},{"p":2,"t":11.9,"v":-59.2,"v2":-70.2},{"p":2,"t":12.0,"v":-60.3,"v2":-69.8},

    {"p":3,"t":0,"v":-6.1,"v2":-70.1},{"p":3,"t":0.2,"v":-6.0,"v2":-69.8},{"p":3,"t":0.4,"v":-6.2,"v2":-70.3},{"p":3,"t":0.6,"v":-6.1,"v2":-69.9},
    {"p":3,"t":0.8,"v":-6.0,"v2":-70.2},{"p":3,"t":1.0,"v":-6.2,"v2":-70.0},{"p":3,"t":1.2,"v":-6.1,"v2":-70.4},{"p":3,"t":1.4,"v":-6.0,"v2":-69.9},
    {"p":3,"t":1.6,"v":-6.2,"v2":-70.1},{"p":3,"t":1.8,"v":-6.1,"v2":-70.3},{"p":3,"t":1.995,"v":-6.0,"v2":-70.0},{"p":3,"t":2.005,"v":-60.4,"v2":-70.1},
    {"p":3,"t":2.1,"v":-59.6,"v2":-70.0},{"p":3,"t":2.2,"v":-60.5,"v2":-69.8},{"p":3,"t":2.3,"v":-59.1,"v2":-70.3},{"p":3,"t":2.4,"v":-60.2,"v2":-69.9},{"p":3,"t":2.5,"v":-59.8,"v2":-70.2},
    {"p":3,"t":2.6,"v":-60.7,"v2":-69.7},{"p":3,"t":2.7,"v":-59.3,"v2":-70.1},{"p":3,"t":2.8,"v":-60.0,"v2":-70.4},{"p":3,"t":2.9,"v":-58.9,"v2":-69.8},{"p":3,"t":3.0,"v":-60.4,"v2":-70.0},
    {"p":3,"t":3.1,"v":-59.7,"v2":-70.2},{"p":3,"t":3.2,"v":-60.1,"v2":-69.9},{"p":3,"t":3.3,"v":-59.2,"v2":-70.1},{"p":3,"t":3.4,"v":-60.6,"v2":-69.7},{"p":3,"t":3.5,"v":-59.5,"v2":-70.3},
    {"p":3,"t":3.6,"v":-60.3,"v2":-70.0},{"p":3,"t":3.7,"v":-58.8,"v2":-69.8},{"p":3,"t":3.8,"v":-60.0,"v2":-70.2},{"p":3,"t":3.9,"v":-59.9,"v2":-70.1},{"p":3,"t":4.0,"v":-60.5,"v2":-69.9},
    {"p":3,"t":4.1,"v":-59.4,"v2":-70.0},{"p":3,"t":4.2,"v":-60.8,"v2":-70.4},{"p":3,"t":4.3,"v":-59.0,"v2":-69.8},{"p":3,"t":4.4,"v":-60.2,"v2":-70.1},{"p":3,"t":4.5,"v":-59.6,"v2":-69.9},
    {"p":3,"t":4.6,"v":-60.4,"v2":-70.2},{"p":3,"t":4.7,"v":-59.1,"v2":-69.7},{"p":3,"t":4.8,"v":-60.7,"v2":-70.0},{"p":3,"t":4.9,"v":-59.8,"v2":-70.3},{"p":3,"t":5.0,"v":-60.0,"v2":-69.9},
    {"p":3,"t":5.1,"v":-58.9,"v2":-70.1},{"p":3,"t":5.2,"v":-60.3,"v2":-69.8},{"p":3,"t":5.3,"v":-59.5,"v2":-70.0},{"p":3,"t":5.4,"v":-60.6,"v2":-70.2},{"p":3,"t":5.5,"v":-59.2,"v2":-69.9},
    {"p":3,"t":5.6,"v":-60.1,"v2":-70.4},{"p":3,"t":5.7,"v":-59.7,"v2":-69.7},{"p":3,"t":5.8,"v":-60.9,"v2":-70.1},{"p":3,"t":5.9,"v":-59.0,"v2":-70.0},{"p":3,"t":6.0,"v":-60.4,"v2":-69.8},
    {"p":3,"t":6.1,"v":-59.6,"v2":-70.2},{"p":3,"t":6.2,"v":-60.2,"v2":-69.9},{"p":3,"t":6.3,"v":-58.7,"v2":-70.1},{"p":3,"t":6.4,"v":-60.5,"v2":-70.3},{"p":3,"t":6.5,"v":-59.9,"v2":-69.8},
    {"p":3,"t":6.6,"v":-60.0,"v2":-70.0},{"p":3,"t":6.7,"v":-59.3,"v2":-70.2},{"p":3,"t":6.8,"v":-60.8,"v2":-69.9},{"p":3,"t":6.9,"v":-59.5,"v2":-70.1},{"p":3,"t":7.0,"v":-60.1,"v2":-69.7},
    {"p":3,"t":7.1,"v":-59.1,"v2":-70.0},{"p":3,"t":7.2,"v":-60.6,"v2":-70.4},{"p":3,"t":7.3,"v":-59.8,"v2":-69.8},{"p":3,"t":7.4,"v":-60.3,"v2":-70.1},{"p":3,"t":7.5,"v":-58.9,"v2":-69.9},
    {"p":3,"t":7.6,"v":-60.4,"v2":-70.2},{"p":3,"t":7.7,"v":-59.4,"v2":-70.0},{"p":3,"t":7.8,"v":-60.0,"v2":-69.8},{"p":3,"t":7.9,"v":-59.7,"v2":-70.3},{"p":3,"t":8.0,"v":-60.7,"v2":-69.9},
    {"p":3,"t":8.1,"v":-59.2,"v2":-70.1},{"p":3,"t":8.2,"v":-60.2,"v2":-70.0},{"p":3,"t":8.3,"v":-59.6,"v2":-69.7},{"p":3,"t":8.4,"v":-60.5,"v2":-70.2},{"p":3,"t":8.5,"v":-59.0,"v2":-69.9},
    {"p":3,"t":8.6,"v":-60.1,"v2":-70.4},{"p":3,"t":8.7,"v":-59.9,"v2":-69.8},{"p":3,"t":8.8,"v":-60.8,"v2":-70.0},{"p":3,"t":8.9,"v":-59.3,"v2":-70.1},{"p":3,"t":9.0,"v":-60.3,"v2":-69.9},
    {"p":3,"t":9.1,"v":-58.8,"v2":-70.2},{"p":3,"t":9.2,"v":-60.0,"v2":-69.8},{"p":3,"t":9.3,"v":-59.5,"v2":-70.0},{"p":3,"t":9.4,"v":-60.6,"v2":-70.3},{"p":3,"t":9.5,"v":-59.7,"v2":-69.9},
    {"p":3,"t":9.6,"v":-60.2,"v2":-70.1},{"p":3,"t":9.7,"v":-59.1,"v2":-69.7},{"p":3,"t":9.8,"v":-60.4,"v2":-70.0},{"p":3,"t":9.9,"v":-59.8,"v2":-70.2},{"p":3,"t":10.0,"v":-60.9,"v2":-69.8},
    {"p":3,"t":10.1,"v":-59.4,"v2":-70.1},{"p":3,"t":10.2,"v":-60.1,"v2":-69.9},{"p":3,"t":10.3,"v":-59.0,"v2":-70.4},{"p":3,"t":10.4,"v":-60.5,"v2":-70.0},{"p":3,"t":10.5,"v":-59.6,"v2":-69.8},
    {"p":3,"t":10.6,"v":-60.3,"v2":-70.2},{"p":3,"t":10.7,"v":-58.9,"v2":-69.9},{"p":3,"t":10.8,"v":-60.0,"v2":-70.1},{"p":3,"t":10.9,"v":-59.9,"v2":-70.0},{"p":3,"t":11.0,"v":-60.6,"v2":-69.7},
    {"p":3,"t":11.1,"v":-59.3,"v2":-70.3},{"p":3,"t":11.2,"v":-60.2,"v2":-69.9},{"p":3,"t":11.3,"v":-59.7,"v2":-70.1},{"p":3,"t":11.4,"v":-60.4,"v2":-70.0},{"p":3,"t":11.5,"v":-59.1,"v2":-69.8},
    {"p":3,"t":11.6,"v":-60.7,"v2":-70.2},{"p":3,"t":11.7,"v":-59.5,"v2":-69.9},{"p":3,"t":11.8,"v":-60.0,"v2":-70.1},{"p":3,"t":11.9,"v":-59.8,"v2":-70.0},{"p":3,"t":12.0,"v":-60.3,"v2":-69.8}
  ]
},
"vconcat": [
  {"width": 1265, "height": 29, "view": {"fill": "#c0c0c0", "stroke": "#000000", "strokeWidth": 2},
   "data": {"values": [{"s": "11BE20MIMO_Ant1_6535_Center_6535_7"}]},
   "mark": {"type": "text", "font": "Liberation Sans", "fontSize": 24, "align": "center", "baseline": "middle", "color": "#000000"},
   "encoding": {"text": {"field": "s"}}},
  {"width": 1265, "height": 438, "view": {"fill": "#ffffff", "stroke": "#000000", "strokeWidth": 2},
   "encoding": {
     "x": {"field": "t", "type": "quantitative", "scale": {"domain": [-6.8108, 20.5405], "nice": false, "zero": false}, "axis": null},
     "y": {"field": "v", "type": "quantitative", "scale": {"domain": [-106.054, 40.435], "nice": false, "zero": false}, "axis": null}
   },
   "layer": [
     {"data": {"name": "rects"}, "transform": [{"filter": "datum.g=='frame'"}], "mark": {"type": "rect", "fill": "#ffffff", "stroke": "#000000", "strokeWidth": 3}, "encoding": {"x2": {"field": "t2"}, "y2": {"field": "v2"}}},
     {"data": {"name": "rects"}, "transform": [{"filter": "datum.g!='frame'"}], "mark": {"type": "rect", "strokeWidth": 1, "opacity": 1},
      "encoding": {"x2": {"field": "t2"}, "y2": {"field": "v2"},
        "fill": {"field": "g", "type": "nominal", "legend": null, "scale": {"domain": ["wt","icon","btn","close","lxi","status","cfbox","sk","msg","plot","tbox"], "range": ["#cfdcee","#c65a5a","#c3d3e8","#d64b3c","#1cd41c","#ffffff","#e3e3e3","#ffffff","#ffffff","#ffffff","#ffffff"]}},
        "stroke": {"field": "g", "type": "nominal", "legend": null, "scale": {"domain": ["wt","icon","btn","close","lxi","status","cfbox","sk","msg","plot","tbox"], "range": ["#cfdcee","#c65a5a","#8ea3c2","#a8392c","#1cd41c","#b8b8b8","#7c7c7c","#3c3c3c","#a8a8a8","#a6a6a6","#f0a000"]}}}},
     {"data": {"name": "vr"}, "transform": [{"filter": "datum.g=='grid'"}], "mark": {"type": "rule", "color": "#c8c8c8", "strokeWidth": 1}, "encoding": {"y2": {"field": "v2"}}},
     {"data": {"name": "hr"}, "transform": [{"filter": "datum.g=='grid'"}], "mark": {"type": "rule", "color": "#c8c8c8", "strokeWidth": 1}, "encoding": {"x2": {"field": "t2"}}},
     {"data": {"name": "vr"}, "transform": [{"filter": "datum.g=='div'"}], "mark": {"type": "rule", "color": "#b4b4b4", "strokeWidth": 1}, "encoding": {"y2": {"field": "v2"}}},
     {"data": {"name": "tr"}, "transform": [{"filter": "datum.p==1"}], "mark": {"type": "area", "color": "#ffa500", "opacity": 1, "interpolate": "linear"}, "encoding": {"y2": {"field": "v2"}}},
     {"data": {"name": "sp"}, "transform": [{"filter": "datum.p==1"}], "mark": {"type": "rule", "color": "#ffb52e", "strokeWidth": 1}, "encoding": {"y2": {"field": "v2"}}},
     {"data": {"name": "vr"}, "transform": [{"filter": "datum.g=='axis'"}], "mark": {"type": "rule", "color": "#5a5a5a", "strokeWidth": 1.5}, "encoding": {"y2": {"field": "v2"}}},
     {"data": {"name": "hr"}, "transform": [{"filter": "datum.g=='ul'"}], "mark": {"type": "rule", "color": "#000000", "strokeWidth": 1}, "encoding": {"x2": {"field": "t2"}}},
     {"data": {"name": "txt"}, "transform": [{"filter": "datum.g=='h1'"}], "mark": {"type": "text", "style": "h1"}, "encoding": {"text": {"field": "s"}}},
     {"data": {"name": "txt"}, "transform": [{"filter": "datum.g=='b11l'"}], "mark": {"type": "text", "style": "b11l"}, "encoding": {"text": {"field": "s"}}},
     {"data": {"name": "txt"}, "transform": [{"filter": "datum.g=='b11r'"}], "mark": {"type": "text", "style": "b11r"}, "encoding": {"text": {"field": "s"}}},
     {"data": {"name": "txt"}, "transform": [{"filter": "datum.g=='n9r'"}], "mark": {"type": "text", "style": "n9r"}, "encoding": {"text": {"field": "s"}}},
     {"data": {"name": "txt"}, "transform": [{"filter": "datum.g=='n9l'"}], "mark": {"type": "text", "style": "n9l"}, "encoding": {"text": {"field": "s"}}},
     {"data": {"name": "txt"}, "transform": [{"filter": "datum.g=='n10c'"}], "mark": {"type": "text", "style": "n10c"}, "encoding": {"text": {"field": "s"}}},
     {"data": {"name": "txt"}, "transform": [{"filter": "datum.g=='b8l'"}], "mark": {"type": "text", "style": "b8l"}, "encoding": {"text": {"field": "s"}}},
     {"data": {"name": "txt"}, "transform": [{"filter": "datum.g=='b7l'"}], "mark": {"type": "text", "style": "b7l"}, "encoding": {"text": {"field": "s"}}},
     {"data": {"name": "txt"}, "transform": [{"filter": "datum.g=='gray'"}], "mark": {"type": "text", "style": "gray"}, "encoding": {"text": {"field": "s"}}},
     {"data": {"name": "txt"}, "transform": [{"filter": "datum.g=='mk' && (datum.p==0 || datum.p==1)"}], "mark": {"type": "text", "style": "mk"}, "encoding": {"text": {"field": "s"}}},
     {"data": {"name": "txt"}, "transform": [{"filter": "datum.g=='tiny' && (datum.p==0 || datum.p==1)"}], "mark": {"type": "text", "style": "tiny"}, "encoding": {"text": {"field": "s"}}},
     {"data": {"name": "txt"}, "transform": [{"filter": "datum.g=='tinyl'"}], "mark": {"type": "text", "style": "tinyl"}, "encoding": {"text": {"field": "s"}}},
     {"data": {"name": "txt"}, "transform": [{"filter": "datum.g=='tinyr'"}], "mark": {"type": "text", "style": "tinyr"}, "encoding": {"text": {"field": "s"}}},
     {"data": {"name": "txt"}, "transform": [{"filter": "datum.g=='yt'"}], "mark": {"type": "text", "style": "yt"}, "encoding": {"text": {"field": "s"}}},
     {"data": {"name": "trn"}, "mark": {"type": "text", "style": "tinyc"}, "encoding": {"text": {"field": "n"}, "color": {"field": "n", "type": "nominal", "legend": null, "scale": {"domain": ["1","2","3","4","5","6"], "range": ["#f0a000","#30d0f0","#f040f0","#40c860","#f05050","#8060f0"]}}}},
     {"data": {"name": "mkl"}, "transform": [{"filter": "datum.p==1"}], "mark": {"type": "point", "shape": "square", "filled": true, "color": "#ffffff", "size": 100, "opacity": 1}},
     {"data": {"name": "mkr"}, "transform": [{"filter": "datum.p==1"}], "mark": {"type": "point", "shape": "M0,-1L0.6,0L0,1L-0.6,0Z", "filled": true, "fill": "#00e000", "stroke": "#005000", "strokeWidth": 1, "size": 256, "opacity": 1}},
     {"data": {"name": "mkl"}, "transform": [{"filter": "datum.p==1"}], "mark": {"type": "text", "style": "mkl"}, "encoding": {"text": {"field": "s"}}}
   ]},
  {"width": 1265, "height": 29, "view": {"fill": "#c0c0c0", "stroke": "#000000", "strokeWidth": 2},
   "data": {"values": [{"s": "11BE20MIMO_Ant1_6535_Center_6535_8"}]},
   "mark": {"type": "text", "font": "Liberation Sans", "fontSize": 24, "align": "center", "baseline": "middle", "color": "#000000"},
   "encoding": {"text": {"field": "s"}}},
  {"width": 1265, "height": 438, "view": {"fill": "#ffffff", "stroke": "#000000", "strokeWidth": 2},
   "encoding": {
     "x": {"field": "t", "type": "quantitative", "scale": {"domain": [-6.8108, 20.5405], "nice": false, "zero": false}, "axis": null},
     "y": {"field": "v", "type": "quantitative", "scale": {"domain": [-106.054, 40.435], "nice": false, "zero": false}, "axis": null}
   },
   "layer": [
     {"data": {"name": "rects"}, "transform": [{"filter": "datum.g=='frame'"}], "mark": {"type": "rect", "fill": "#ffffff", "stroke": "#000000", "strokeWidth": 3}, "encoding": {"x2": {"field": "t2"}, "y2": {"field": "v2"}}},
     {"data": {"name": "rects"}, "transform": [{"filter": "datum.g!='frame'"}], "mark": {"type": "rect", "strokeWidth": 1, "opacity": 1},
      "encoding": {"x2": {"field": "t2"}, "y2": {"field": "v2"},
        "fill": {"field": "g", "type": "nominal", "legend": null, "scale": {"domain": ["wt","icon","btn","close","lxi","status","cfbox","sk","msg","plot","tbox"], "range": ["#cfdcee","#c65a5a","#c3d3e8","#d64b3c","#1cd41c","#ffffff","#e3e3e3","#ffffff","#ffffff","#ffffff","#ffffff"]}},
        "stroke": {"field": "g", "type": "nominal", "legend": null, "scale": {"domain": ["wt","icon","btn","close","lxi","status","cfbox","sk","msg","plot","tbox"], "range": ["#cfdcee","#c65a5a","#8ea3c2","#a8392c","#1cd41c","#b8b8b8","#7c7c7c","#3c3c3c","#a8a8a8","#a6a6a6","#f0a000"]}}}},
     {"data": {"name": "vr"}, "transform": [{"filter": "datum.g=='grid'"}], "mark": {"type": "rule", "color": "#c8c8c8", "strokeWidth": 1}, "encoding": {"y2": {"field": "v2"}}},
     {"data": {"name": "hr"}, "transform": [{"filter": "datum.g=='grid'"}], "mark": {"type": "rule", "color": "#c8c8c8", "strokeWidth": 1}, "encoding": {"x2": {"field": "t2"}}},
     {"data": {"name": "vr"}, "transform": [{"filter": "datum.g=='div'"}], "mark": {"type": "rule", "color": "#b4b4b4", "strokeWidth": 1}, "encoding": {"y2": {"field": "v2"}}},
     {"data": {"name": "tr"}, "transform": [{"filter": "datum.p==2"}], "mark": {"type": "area", "color": "#ffa500", "opacity": 1, "interpolate": "linear"}, "encoding": {"y2": {"field": "v2"}}},
     {"data": {"name": "sp"}, "transform": [{"filter": "datum.p==2"}], "mark": {"type": "rule", "color": "#ffb52e", "strokeWidth": 1}, "encoding": {"y2": {"field": "v2"}}},
     {"data": {"name": "vr"}, "transform": [{"filter": "datum.g=='axis'"}], "mark": {"type": "rule", "color": "#5a5a5a", "strokeWidth": 1.5}, "encoding": {"y2": {"field": "v2"}}},
     {"data": {"name": "hr"}, "transform": [{"filter": "datum.g=='ul'"}], "mark": {"type": "rule", "color": "#000000", "strokeWidth": 1}, "encoding": {"x2": {"field": "t2"}}},
     {"data": {"name": "txt"}, "transform": [{"filter": "datum.g=='h1'"}], "mark": {"type": "text", "style": "h1"}, "encoding": {"text": {"field": "s"}}},
     {"data": {"name": "txt"}, "transform": [{"filter": "datum.g=='b11l'"}], "mark": {"type": "text", "style": "b11l"}, "encoding": {"text": {"field": "s"}}},
     {"data": {"name": "txt"}, "transform": [{"filter": "datum.g=='b11r'"}], "mark": {"type": "text", "style": "b11r"}, "encoding": {"text": {"field": "s"}}},
     {"data": {"name": "txt"}, "transform": [{"filter": "datum.g=='n9r'"}], "mark": {"type": "text", "style": "n9r"}, "encoding": {"text": {"field": "s"}}},
     {"data": {"name": "txt"}, "transform": [{"filter": "datum.g=='n9l'"}], "mark": {"type": "text", "style": "n9l"}, "encoding": {"text": {"field": "s"}}},
     {"data": {"name": "txt"}, "transform": [{"filter": "datum.g=='n10c'"}], "mark": {"type": "text", "style": "n10c"}, "encoding": {"text": {"field": "s"}}},
     {"data": {"name": "txt"}, "transform": [{"filter": "datum.g=='b8l'"}], "mark": {"type": "text", "style": "b8l"}, "encoding": {"text": {"field": "s"}}},
     {"data": {"name": "txt"}, "transform": [{"filter": "datum.g=='b7l'"}], "mark": {"type": "text", "style": "b7l"}, "encoding": {"text": {"field": "s"}}},
     {"data": {"name": "txt"}, "transform": [{"filter": "datum.g=='gray'"}], "mark": {"type": "text", "style": "gray"}, "encoding": {"text": {"field": "s"}}},
     {"data": {"name": "txt"}, "transform": [{"filter": "datum.g=='mk' && (datum.p==0 || datum.p==2)"}], "mark": {"type": "text", "style": "mk"}, "encoding": {"text": {"field": "s"}}},
     {"data": {"name": "txt"}, "transform": [{"filter": "datum.g=='tiny' && (datum.p==0 || datum.p==2)"}], "mark": {"type": "text", "style": "tiny"}, "encoding": {"text": {"field": "s"}}},
     {"data": {"name": "txt"}, "transform": [{"filter": "datum.g=='tinyl'"}], "mark": {"type": "text", "style": "tinyl"}, "encoding": {"text": {"field": "s"}}},
     {"data": {"name": "txt"}, "transform": [{"filter": "datum.g=='tinyr'"}], "mark": {"type": "text", "style": "tinyr"}, "encoding": {"text": {"field": "s"}}},
     {"data": {"name": "txt"}, "transform": [{"filter": "datum.g=='yt'"}], "mark": {"type": "text", "style": "yt"}, "encoding": {"text": {"field": "s"}}},
     {"data": {"name": "trn"}, "mark": {"type": "text", "style": "tinyc"}, "encoding": {"text": {"field": "n"}, "color": {"field": "n", "type": "nominal", "legend": null, "scale": {"domain": ["1","2","3","4","5","6"], "range": ["#f0a000","#30d0f0","#f040f0","#40c860","#f05050","#8060f0"]}}}},
     {"data": {"name": "mkr"}, "transform": [{"filter": "datum.p==2"}], "mark": {"type": "point", "shape": "M0,-1L0.6,0L0,1L-0.6,0Z", "filled": true, "fill": "#00e000", "stroke": "#005000", "strokeWidth": 1, "size": 256, "opacity": 1}},
     {"data": {"name": "mkl"}, "transform": [{"filter": "datum.p==2"}], "mark": {"type": "text", "style": "mkl"}, "encoding": {"text": {"field": "s"}}}
   ]},
  {"width": 1265, "height": 29, "view": {"fill": "#c0c0c0", "stroke": "#000000", "strokeWidth": 2},
   "data": {"values": [{"s": "11BE20MIMO_Ant1_6535_Center_6535_9"}]},
   "mark": {"type": "text", "font": "Liberation Sans", "fontSize": 24, "align": "center", "baseline": "middle", "color": "#000000"},
   "encoding": {"text": {"field": "s"}}},
  {"width": 1265, "height": 438, "view": {"fill": "#ffffff", "stroke": "#000000", "strokeWidth": 2},
   "encoding": {
     "x": {"field": "t", "type": "quantitative", "scale": {"domain": [-6.8108, 20.5405], "nice": false, "zero": false}, "axis": null},
     "y": {"field": "v", "type": "quantitative", "scale": {"domain": [-106.054, 40.435], "nice": false, "zero": false}, "axis": null}
   },
   "layer": [
     {"data": {"name": "rects"}, "transform": [{"filter": "datum.g=='frame'"}], "mark": {"type": "rect", "fill": "#ffffff", "stroke": "#000000", "strokeWidth": 3}, "encoding": {"x2": {"field": "t2"}, "y2": {"field": "v2"}}},
     {"data": {"name": "rects"}, "transform": [{"filter": "datum.g!='frame'"}], "mark": {"type": "rect", "strokeWidth": 1, "opacity": 1},
      "encoding": {"x2": {"field": "t2"}, "y2": {"field": "v2"},
        "fill": {"field": "g", "type": "nominal", "legend": null, "scale": {"domain": ["wt","icon","btn","close","lxi","status","cfbox","sk","msg","plot","tbox"], "range": ["#cfdcee","#c65a5a","#c3d3e8","#d64b3c","#1cd41c","#ffffff","#e3e3e3","#ffffff","#ffffff","#ffffff","#ffffff"]}},
        "stroke": {"field": "g", "type": "nominal", "legend": null, "scale": {"domain": ["wt","icon","btn","close","lxi","status","cfbox","sk","msg","plot","tbox"], "range": ["#cfdcee","#c65a5a","#8ea3c2","#a8392c","#1cd41c","#b8b8b8","#7c7c7c","#3c3c3c","#a8a8a8","#a6a6a6","#f0a000"]}}}},
     {"data": {"name": "vr"}, "transform": [{"filter": "datum.g=='grid'"}], "mark": {"type": "rule", "color": "#c8c8c8", "strokeWidth": 1}, "encoding": {"y2": {"field": "v2"}}},
     {"data": {"name": "hr"}, "transform": [{"filter": "datum.g=='grid'"}], "mark": {"type": "rule", "color": "#c8c8c8", "strokeWidth": 1}, "encoding": {"x2": {"field": "t2"}}},
     {"data": {"name": "vr"}, "transform": [{"filter": "datum.g=='div'"}], "mark": {"type": "rule", "color": "#b4b4b4", "strokeWidth": 1}, "encoding": {"y2": {"field": "v2"}}},
     {"data": {"name": "tr"}, "transform": [{"filter": "datum.p==3"}], "mark": {"type": "area", "color": "#ffa500", "opacity": 1, "interpolate": "linear"}, "encoding": {"y2": {"field": "v2"}}},
     {"data": {"name": "sp"}, "transform": [{"filter": "datum.p==3"}], "mark": {"type": "rule", "color": "#ffb52e", "strokeWidth": 1}, "encoding": {"y2": {"field": "v2"}}},
     {"data": {"name": "vr"}, "transform": [{"filter": "datum.g=='axis'"}], "mark": {"type": "rule", "color": "#5a5a5a", "strokeWidth": 1.5}, "encoding": {"y2": {"field": "v2"}}},
     {"data": {"name": "hr"}, "transform": [{"filter": "datum.g=='ul'"}], "mark": {"type": "rule", "color": "#000000", "strokeWidth": 1}, "encoding": {"x2": {"field": "t2"}}},
     {"data": {"name": "txt"}, "transform": [{"filter": "datum.g=='h1'"}], "mark": {"type": "text", "style": "h1"}, "encoding": {"text": {"field": "s"}}},
     {"data": {"name": "txt"}, "transform": [{"filter": "datum.g=='b11l'"}], "mark": {"type": "text", "style": "b11l"}, "encoding": {"text": {"field": "s"}}},
     {"data": {"name": "txt"}, "transform": [{"filter": "datum.g=='b11r'"}], "mark": {"type": "text", "style": "b11r"}, "encoding": {"text": {"field": "s"}}},
     {"data": {"name": "txt"}, "transform": [{"filter": "datum.g=='n9r'"}], "mark": {"type": "text", "style": "n9r"}, "encoding": {"text": {"field": "s"}}},
     {"data": {"name": "txt"}, "transform": [{"filter": "datum.g=='n9l'"}], "mark": {"type": "text", "style": "n9l"}, "encoding": {"text": {"field": "s"}}},
     {"data": {"name": "txt"}, "transform": [{"filter": "datum.g=='n10c'"}], "mark": {"type": "text", "style": "n10c"}, "encoding": {"text": {"field": "s"}}},
     {"data": {"name": "txt"}, "transform": [{"filter": "datum.g=='b8l'"}], "mark": {"type": "text", "style": "b8l"}, "encoding": {"text": {"field": "s"}}},
     {"data": {"name": "txt"}, "transform": [{"filter": "datum.g=='b7l'"}], "mark": {"type": "text", "style": "b7l"}, "encoding": {"text": {"field": "s"}}},
     {"data": {"name": "txt"}, "transform": [{"filter": "datum.g=='gray'"}], "mark": {"type": "text", "style": "gray"}, "encoding": {"text": {"field": "s"}}},
     {"data": {"name": "txt"}, "transform": [{"filter": "datum.g=='mk' && (datum.p==0 || datum.p==3)"}], "mark": {"type": "text", "style": "mk"}, "encoding": {"text": {"field": "s"}}},
     {"data": {"name": "txt"}, "transform": [{"filter": "datum.g=='tiny' && (datum.p==0 || datum.p==3)"}], "mark": {"type": "text", "style": "tiny"}, "encoding": {"text": {"field": "s"}}},
     {"data": {"name": "txt"}, "transform": [{"filter": "datum.g=='tinyl'"}], "mark": {"type": "text", "style": "tinyl"}, "encoding": {"text": {"field": "s"}}},
     {"data": {"name": "txt"}, "transform": [{"filter": "datum.g=='tinyr'"}], "mark": {"type": "text", "style": "tinyr"}, "encoding": {"text": {"field": "s"}}},
     {"data": {"name": "txt"}, "transform": [{"filter": "datum.g=='yt'"}], "mark": {"type": "text", "style": "yt"}, "encoding": {"text": {"field": "s"}}},
     {"data": {"name": "trn"}, "mark": {"type": "text", "style": "tinyc"}, "encoding": {"text": {"field": "n"}, "color": {"field": "n", "type": "nominal", "legend": null, "scale": {"domain": ["1","2","3","4","5","6"], "range": ["#f0a000","#30d0f0","#f040f0","#40c860","#f05050","#8060f0"]}}}},
     {"data": {"name": "mkr"}, "transform": [{"filter": "datum.p==3"}], "mark": {"type": "point", "shape": "M0,-1L0.6,0L0,1L-0.6,0Z", "filled": true, "fill": "#00e000", "stroke": "#005000", "strokeWidth": 1, "size": 256, "opacity": 1}},
     {"data": {"name": "mkl"}, "transform": [{"filter": "datum.p==3"}], "mark": {"type": "text", "style": "mkl"}, "encoding": {"text": {"field": "s"}}}
   ]},
  {"width": 1265, "height": 29, "view": {"fill": "#c0c0c0", "stroke": "#000000", "strokeWidth": 2},
   "data": {"values": [{"s": "11BE20MIMO_Ant1_6535_Center_6535_10"}]},
   "mark": {"type": "text", "font": "Liberation Sans", "fontSize": 24, "align": "center", "baseline": "middle", "color": "#000000"},
   "encoding": {"text": {"field": "s"}}}
]
}
